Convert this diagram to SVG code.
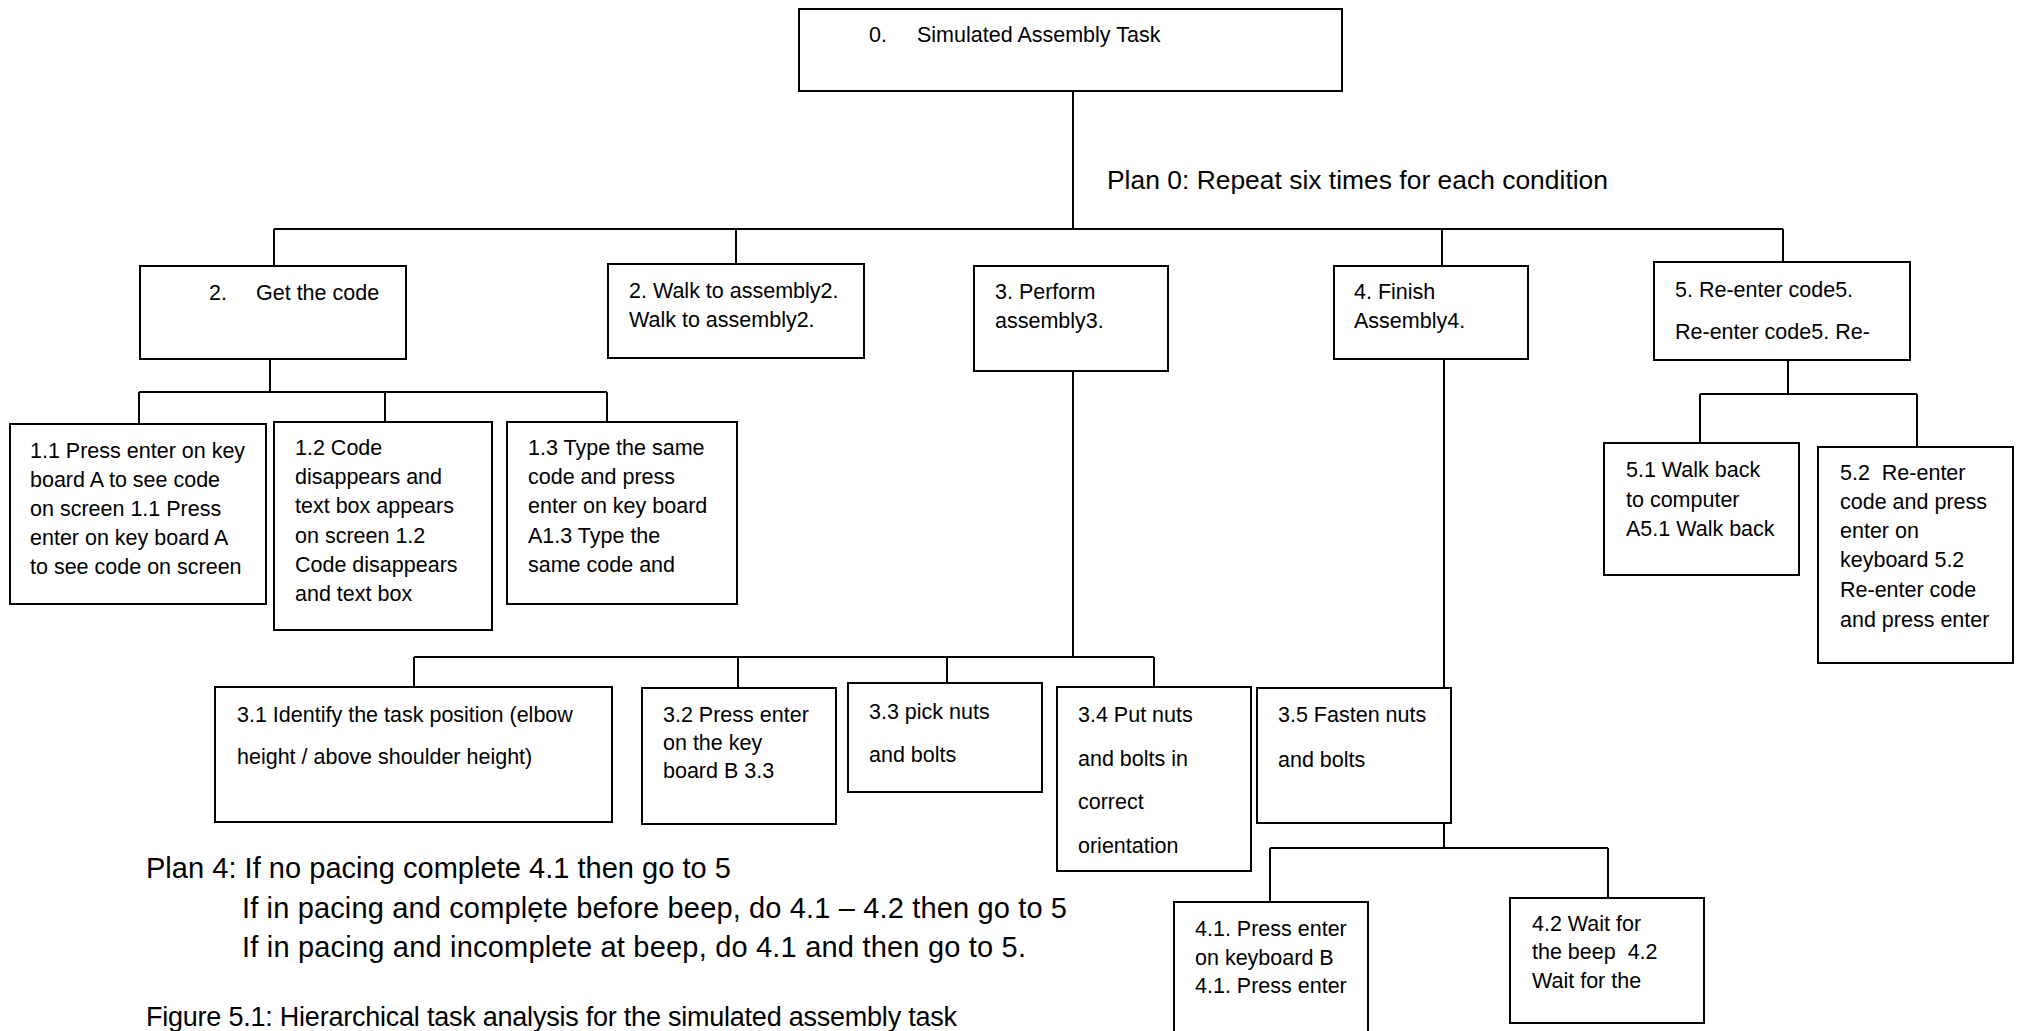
<svg xmlns="http://www.w3.org/2000/svg" width="2020" height="1031" viewBox="0 0 2020 1031">
<style>
.box{fill:#fff;stroke:#000;stroke-width:2}
.conn{fill:none;stroke:#000;stroke-width:2}
.t{font-family:"Liberation Sans",Arial,sans-serif;font-size:21.5px;fill:#000}
.plan{font-family:"Liberation Sans",Arial,sans-serif;fill:#000}
</style>
<rect x="0" y="0" width="2020" height="1031" fill="#fff"/>
<g id="connectors">
<path class="conn" d="M1073 91V229M274 229H1783M274 229V266M736 229V264M1442 229V266M1783 229V262"/>
<path class="conn" d="M270 359V392M139 392H607M139 392V424M385 392V422M607 392V422"/>
<path class="conn" d="M1073 371V657M414 657H1154M414 657V687M738 657V688M947 657V683M1154 657V687"/>
<path class="conn" d="M1444 359V688M1444 823V848M1270 848H1608M1270 848V902M1608 848V898"/>
<path class="conn" d="M1788 360V394M1700 394H1917M1700 394V443M1917 394V447"/>
</g>
<g id="n0">
<rect class="box" x="799" y="9" width="543" height="82"/>
<text class="t" x="869" y="42">0.</text>
<text class="t" x="917" y="42">Simulated Assembly Task</text>
</g>
<g id="plan0">
<text class="plan" x="1107" y="189" font-size="26.4" textLength="501">Plan 0: Repeat six times for each condition</text>
</g>
<g id="n1">
<rect class="box" x="140" y="266" width="266" height="93"/>
<text class="t" x="209" y="300">2.</text>
<text class="t" x="256" y="300">Get the code</text>
</g>
<g id="n2">
<rect class="box" x="608" y="264" width="256" height="94"/>
<text class="t" x="629" y="298">2. Walk to assembly2.</text>
<text class="t" x="629" y="327">Walk to assembly2.</text>
</g>
<g id="n3">
<rect class="box" x="974" y="266" width="194" height="105"/>
<text class="t" x="995" y="299">3. Perform</text>
<text class="t" x="995" y="328">assembly3.</text>
</g>
<g id="n4">
<rect class="box" x="1334" y="266" width="194" height="93"/>
<text class="t" x="1354" y="299">4. Finish</text>
<text class="t" x="1354" y="328">Assembly4.</text>
</g>
<g id="n5">
<rect class="box" x="1654" y="262" width="256" height="98"/>
<text class="t" x="1675" y="297">5. Re-enter code5.</text>
<text class="t" x="1675" y="339">Re-enter code5. Re-</text>
</g>
<g id="n1_1">
<rect class="box" x="10" y="424" width="256" height="180"/>
<text class="t" x="30" y="458">1.1 Press enter on key</text>
<text class="t" x="30" y="487">board A to see code</text>
<text class="t" x="30" y="516">on screen 1.1 Press</text>
<text class="t" x="30" y="545">enter on key board A</text>
<text class="t" x="30" y="574">to see code on screen</text>
</g>
<g id="n1_2">
<rect class="box" x="274" y="422" width="218" height="208"/>
<text class="t" x="295" y="455">1.2 Code</text>
<text class="t" x="295" y="484">disappears and</text>
<text class="t" x="295" y="513">text box appears</text>
<text class="t" x="295" y="543">on screen 1.2</text>
<text class="t" x="295" y="572">Code disappears</text>
<text class="t" x="295" y="601">and text box</text>
</g>
<g id="n1_3">
<rect class="box" x="507" y="422" width="230" height="182"/>
<text class="t" x="528" y="455">1.3 Type the same</text>
<text class="t" x="528" y="484">code and press</text>
<text class="t" x="528" y="513">enter on key board</text>
<text class="t" x="528" y="543">A1.3 Type the</text>
<text class="t" x="528" y="572">same code and</text>
</g>
<g id="n3_1">
<rect class="box" x="215" y="687" width="397" height="135"/>
<text class="t" x="237" y="722">3.1 Identify the task position (elbow</text>
<text class="t" x="237" y="764">height / above shoulder height)</text>
</g>
<g id="n3_2">
<rect class="box" x="642" y="688" width="194" height="136"/>
<text class="t" x="663" y="722">3.2 Press enter</text>
<text class="t" x="663" y="750">on the key</text>
<text class="t" x="663" y="778">board B 3.3</text>
</g>
<g id="n3_3">
<rect class="box" x="848" y="683" width="194" height="109"/>
<text class="t" x="869" y="719">3.3 pick nuts</text>
<text class="t" x="869" y="762">and bolts</text>
</g>
<g id="n3_4">
<rect class="box" x="1057" y="687" width="194" height="184"/>
<text class="t" x="1078" y="722">3.4 Put nuts</text>
<text class="t" x="1078" y="766">and bolts in</text>
<text class="t" x="1078" y="809">correct</text>
<text class="t" x="1078" y="853">orientation</text>
</g>
<g id="n3_5">
<rect class="box" x="1257" y="688" width="194" height="135"/>
<text class="t" x="1278" y="722">3.5 Fasten nuts</text>
<text class="t" x="1278" y="767">and bolts</text>
</g>
<g id="n4_1">
<rect class="box" x="1174" y="902" width="194" height="140"/>
<text class="t" x="1195" y="936">4.1. Press enter</text>
<text class="t" x="1195" y="965">on keyboard B</text>
<text class="t" x="1195" y="993">4.1. Press enter</text>
</g>
<g id="n4_2">
<rect class="box" x="1510" y="898" width="194" height="125"/>
<text class="t" x="1532" y="931">4.2 Wait for</text>
<text class="t" x="1532" y="959" xml:space="preserve">the beep  4.2</text>
<text class="t" x="1532" y="988">Wait for the</text>
</g>
<g id="n5_1">
<rect class="box" x="1604" y="443" width="195" height="132"/>
<text class="t" x="1626" y="477">5.1 Walk back</text>
<text class="t" x="1626" y="507">to computer</text>
<text class="t" x="1626" y="536">A5.1 Walk back</text>
</g>
<g id="n5_2">
<rect class="box" x="1818" y="447" width="195" height="216"/>
<text class="t" x="1840" y="480" xml:space="preserve">5.2  Re-enter</text>
<text class="t" x="1840" y="509">code and press</text>
<text class="t" x="1840" y="538">enter on</text>
<text class="t" x="1840" y="567">keyboard 5.2</text>
<text class="t" x="1840" y="597">Re-enter code</text>
<text class="t" x="1840" y="627">and press enter</text>
</g>
<g id="plan4">
<text class="plan" x="146" y="878" font-size="29" textLength="585">Plan 4: If no pacing complete 4.1 then go to 5</text>
<text class="plan" x="242" y="918" font-size="29" textLength="825">If in pacing and complẹte before beep, do 4.1 – 4.2 then go to 5</text>
<text class="plan" x="242" y="957" font-size="29" textLength="784">If in pacing and incomplete at beep, do 4.1 and then go to 5.</text>
</g>
<g id="caption">
<text class="plan" x="146" y="1026" font-size="27" textLength="811">Figure 5.1: Hierarchical task analysis for the simulated assembly task</text>
</g>
</svg>
